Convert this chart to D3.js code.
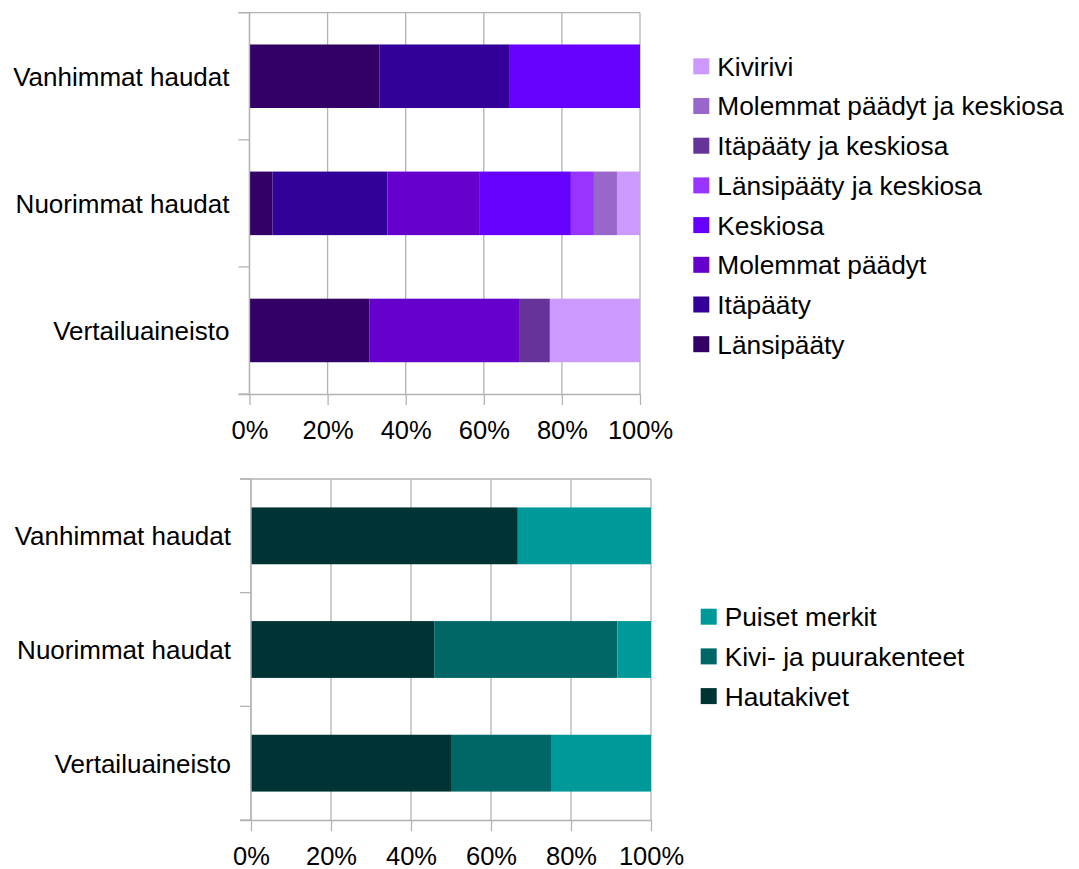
<!DOCTYPE html>
<html>
<head>
<meta charset="utf-8">
<script src="https://cdn.jsdelivr.net/npm/d3@7"></script>
<style>
  body { margin: 0; background: #fff; }
  text { font-family: "Liberation Sans", Arial, sans-serif; fill: #000; }
</style>
</head>
<body>
<script>
// categories (top to bottom)
var categories = ["Vanhimmat haudat", "Nuorimmat haudat", "Vertailuaineisto"];

// top chart: shares (%) per series, in stacking order left -> right
var placeSeries = ["Länsipääty", "Itäpääty", "Molemmat päädyt", "Keskiosa",
                   "Länsipääty ja keskiosa", "Itäpääty ja keskiosa",
                   "Molemmat päädyt ja keskiosa", "Kivirivi"];
var lansipaaty   = [33.3, 5.9, 30.8];
var itapaaty     = [33.3, 29.4, 0];
var molemmat     = [0, 23.5, 38.5];
var keskiosa     = [33.3, 23.5, 0];
var lansiKesk    = [0, 5.9, 0];
var itaKesk      = [0, 0, 7.7];
var molemmatKesk = [0, 5.9, 0];
var kivirivi     = [0, 5.9, 23.1];
var placeColors = ["#330066", "#330099", "#6600cc", "#6600ff",
                   "#9933ff", "#663399", "#9966cc", "#cc99ff"];

// bottom chart
var markerSeries = ["Hautakivet", "Kivi- ja puurakenteet", "Puiset merkit"];
var hautakivet   = [66.7, 45.8, 50];
var kiviPuu      = [0, 45.8, 25];
var puiset       = [33.3, 8.4, 25];
var markerColors = ["#003333", "#006666", "#009999"];

var tickValues = [0, 0.2, 0.4, 0.6, 0.8, 1];

var svg = d3.select("body").append("svg")
    .attr("width", 1079)
    .attr("height", 869);

function buildRows(series, values) {
    return categories.map(function(c, i) {
        var row = {cat: c};
        series.forEach(function(s, j) { row[s] = values[j][i]; });
        return row;
    });
}

function drawChart(opt) {
    var rows = buildRows(opt.series, opt.values);
    var stack = d3.stack().keys(opt.series).offset(d3.stackOffsetExpand)(rows);

    var x = d3.scaleLinear().domain([0, 1]).range([opt.left, opt.right]);
    var y = d3.scaleBand().domain(categories)
        .range([opt.top, opt.bottom])
        .paddingInner(0.5).paddingOuter(0.25);
    var color = d3.scaleOrdinal().domain(opt.series).range(opt.colors);

    var g = svg.append("g");
    var grid = "#b3b3b3";

    // vertical gridlines
    g.selectAll(".grid").data(tickValues).enter().append("line")
        .attr("x1", function(d) { return x(d); })
        .attr("x2", function(d) { return x(d); })
        .attr("y1", opt.top).attr("y2", opt.bottom)
        .attr("stroke", grid).attr("stroke-width", 1.3);

    // top border line
    g.append("line")
        .attr("x1", opt.left - 11).attr("x2", opt.right)
        .attr("y1", opt.top).attr("y2", opt.top)
        .attr("stroke", grid).attr("stroke-width", 1.3);

    // bars
    g.selectAll(".layer").data(stack).enter().append("g")
        .attr("fill", function(d) { return color(d.key); })
      .selectAll("rect").data(function(d) { return d; }).enter().append("rect")
        .attr("x", function(d) { return x(d[0]); })
        .attr("width", function(d) { return x(d[1]) - x(d[0]); })
        .attr("y", function(d) { return y(d.data.cat); })
        .attr("height", y.bandwidth());

    // category axis: ticks at band boundaries
    var step = y.step();
    var bounds = d3.range(categories.length + 1).map(function(i) { return opt.top + i * step; });
    g.selectAll(".ytick").data(bounds).enter().append("line")
        .attr("x1", opt.left - 11).attr("x2", opt.left)
        .attr("y1", function(d) { return d; }).attr("y2", function(d) { return d; })
        .attr("stroke", grid).attr("stroke-width", 1.3);
    g.append("line")
        .attr("x1", opt.left).attr("x2", opt.left)
        .attr("y1", opt.top).attr("y2", opt.bottom)
        .attr("stroke", grid).attr("stroke-width", 1.3);
    g.selectAll(".ylab").data(categories).enter().append("text")
        .attr("x", opt.left - 20)
        .attr("y", function(d) { return y(d) + y.bandwidth() / 2; })
        .attr("dy", "0.36em")
        .attr("text-anchor", "end")
        .style("font-size", "26px")
        .text(function(d) { return d; });

    // value axis
    var xAxis = d3.axisBottom(x).tickValues(tickValues)
        .tickFormat(d3.format(".0%")).tickSize(11).tickSizeOuter(0).tickPadding(16);
    var ax = g.append("g").attr("transform", "translate(0," + opt.bottom + ")").call(xAxis);
    ax.select(".domain").attr("stroke", grid).attr("stroke-width", 1.3)
        .attr("d", "M" + (opt.left - 11) + ",0.5H" + opt.right);
    ax.selectAll(".tick line").attr("stroke", grid).attr("stroke-width", 1.3);
    ax.selectAll(".tick text")
        .style("font-size", "25.5px")
        .style("font-family", "'Liberation Sans', Arial, sans-serif")
        .attr("fill", "#000");

    // legend (reverse order, last series on top)
    var legendItems = opt.series.slice().reverse();
    var lg = g.append("g");
    var item = lg.selectAll(".item").data(legendItems).enter().append("g")
        .attr("transform", function(d, i) {
            return "translate(" + opt.legendX + "," + (opt.legendY + i * 39.7) + ")";
        });
    item.append("rect")
        .attr("x", 0).attr("y", -8).attr("width", 16).attr("height", 16)
        .attr("fill", function(d) { return color(d); });
    item.append("text")
        .attr("x", 24).attr("y", 0).attr("dy", "0.36em")
        .style("font-size", "26.3px")
        .text(function(d) { return d; });
}

drawChart({
    series: placeSeries,
    values: [lansipaaty, itapaaty, molemmat, keskiosa, lansiKesk, itaKesk, molemmatKesk, kivirivi],
    colors: placeColors,
    left: 249.5, right: 640, top: 12.7, bottom: 394,
    legendX: 693.3, legendY: 66.3
});

drawChart({
    series: markerSeries,
    values: [hautakivet, kiviPuu, puiset],
    colors: markerColors,
    left: 251, right: 651, top: 479, bottom: 820,
    legendX: 700.7, legendY: 616.7
});
</script>
</body>
</html>
